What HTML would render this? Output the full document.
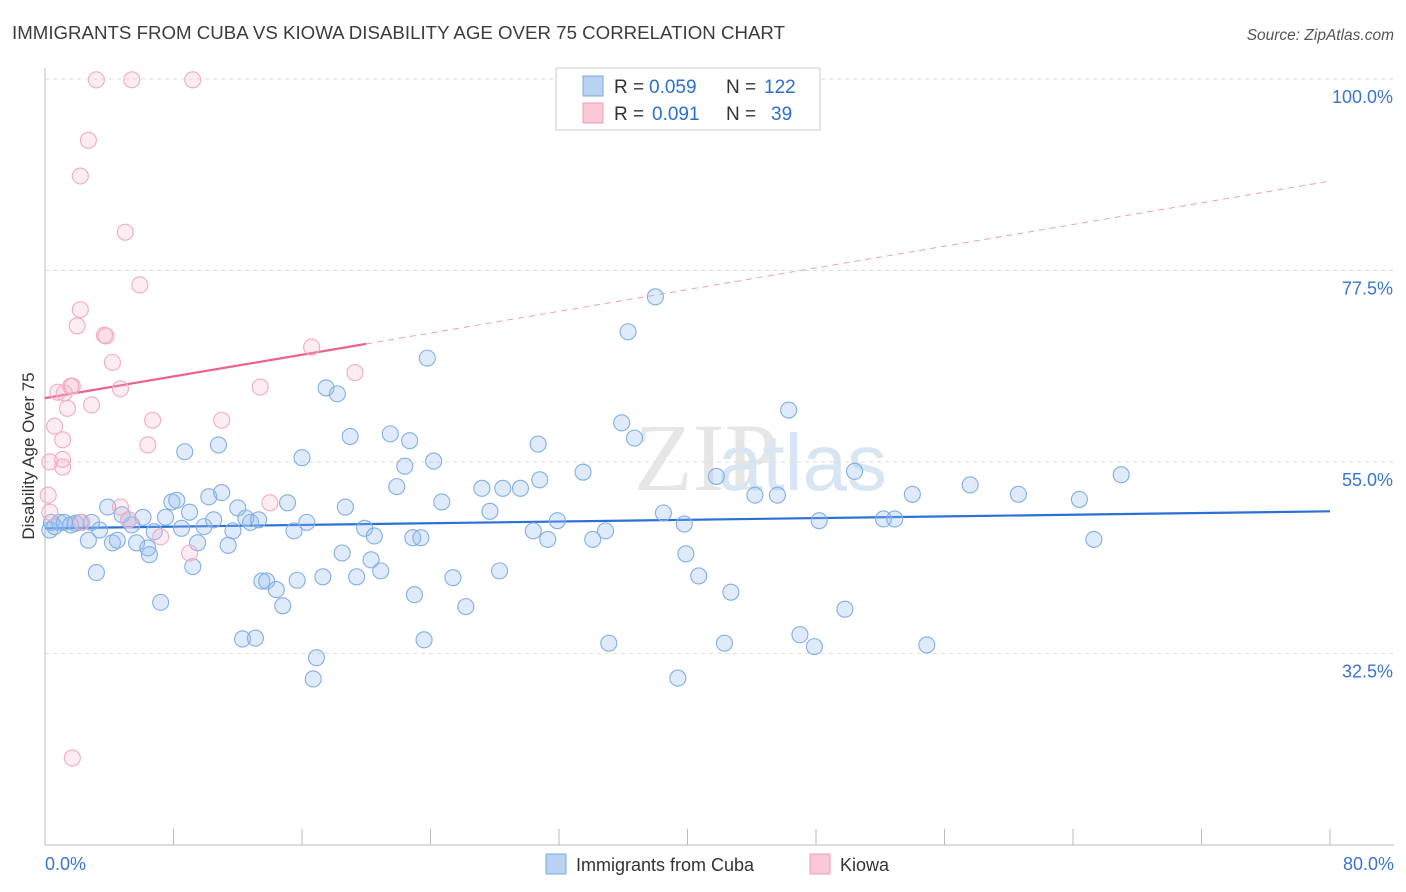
<!DOCTYPE html>
<html><head><meta charset="utf-8"><style>
body{margin:0;background:#fff;font-family:"Liberation Sans",sans-serif;}
svg{display:block}
</style></head><body>
<svg id="chart" width="1406" height="892">
<text x="12" y="39" font-size="18" fill="#3c3c3c" textLength="773" lengthAdjust="spacingAndGlyphs">IMMIGRANTS FROM CUBA VS KIOWA DISABILITY AGE OVER 75 CORRELATION CHART</text>
<text x="1394" y="40" font-size="15.5" fill="#555" font-style="italic" text-anchor="end">Source: ZipAtlas.com</text>
<text x="634" y="490" font-size="96" fill="#e6e6e6" font-family="Liberation Serif">ZIP</text>
<text x="718" y="490" font-size="80" fill="#d8e6f4">atlas</text>
<g id="grid"></g><g id="axes"></g><g id="trends"></g><g id="pts"></g>
<text transform="translate(34,456) rotate(-90)" font-size="17" fill="#333" text-anchor="middle">Disability Age Over 75</text>
<g>
<rect x="556" y="68" width="264" height="62" fill="#fff" stroke="#ccc"/>
<rect x="583" y="76" width="20" height="20" fill="#b9d3f3" stroke="#7aa7e0"/>
<rect x="583" y="103" width="20" height="20" fill="#f9c9d7" stroke="#ee9fb7"/>
<text x="614" y="93" font-size="19" fill="#333">R =</text>
<text x="649" y="93" font-size="19" fill="#2a6fd0">0.059</text>
<text x="726" y="93" font-size="19" fill="#333">N =</text>
<text x="764" y="93" font-size="19" fill="#2a6fd0">122</text>
<text x="614" y="120" font-size="19" fill="#333">R =</text>
<text x="652" y="120" font-size="19" fill="#2a6fd0">0.091</text>
<text x="726" y="120" font-size="19" fill="#333">N =</text>
<text x="771" y="120" font-size="19" fill="#2a6fd0">39</text>
</g>
<g>
<rect x="546" y="854" width="20" height="20" fill="#b9d3f3" stroke="#7aa7e0"/>
<text x="576" y="871" font-size="18" fill="#333">Immigrants from Cuba</text>
<rect x="810" y="854" width="20" height="20" fill="#f9c9d7" stroke="#ee9fb7"/>
<text x="840" y="871" font-size="18" fill="#333">Kiowa</text>
</g>
</svg>
<script>
const blueX=[0.3,0.4,0.6,0.9,1.2,1.6,1.9,2.2,2.7,2.9,3.2,3.4,3.9,4.2,4.5,4.8,5.2,5.4,6.1,5.7,6.4,6.5,6.8,7.2,7.5,7.9,8.2,8.5,8.7,9.0,9.2,9.5,9.9,10.2,10.5,10.8,11.0,11.4,11.7,12.0,12.3,12.5,12.8,13.1,13.3,13.5,13.8,14.4,14.8,15.1,15.5,15.7,16.0,16.3,16.9,16.7,17.3,17.5,18.2,18.5,18.7,19.0,19.4,19.9,20.3,20.5,20.9,21.5,21.9,22.4,22.7,22.9,23.0,23.4,23.6,23.8,24.2,24.7,25.4,26.2,27.2,27.7,28.3,28.5,29.6,30.4,30.7,30.8,31.3,31.9,33.5,34.1,34.9,35.1,35.9,36.3,36.7,38.0,38.5,39.4,39.8,39.9,40.7,41.8,42.3,42.7,44.2,45.6,46.3,47.0,47.9,48.2,49.8,50.4,52.2,52.9,54.0,54.9,57.6,60.6,64.4,65.3,67.0];
const blueY=[47.0,47.9,47.4,47.9,47.9,47.6,47.8,47.9,45.8,47.9,42.0,47.0,49.7,45.5,45.8,48.8,48.2,47.6,48.5,45.5,44.9,44.1,46.8,38.5,48.5,50.3,50.5,47.2,56.2,49.1,42.7,45.5,47.4,50.9,48.2,57.0,51.4,45.2,46.9,49.6,34.2,48.4,47.9,34.3,48.2,41.0,41.0,40.0,38.1,50.2,46.9,41.1,55.5,47.9,32.0,29.5,41.5,63.7,63.0,44.3,49.7,58.0,41.5,47.2,43.5,46.3,42.2,58.3,52.1,54.5,57.5,46.1,39.4,46.1,34.1,67.2,55.1,50.3,41.4,38.0,51.9,49.2,42.2,51.9,51.9,46.9,57.1,52.9,45.9,48.1,53.8,45.9,46.9,33.7,59.6,70.3,57.8,74.4,49.0,29.6,47.7,44.2,41.6,53.3,33.7,39.7,51.1,51.1,61.1,34.7,33.3,48.1,37.7,53.9,48.3,48.3,51.2,33.5,52.3,51.2,50.6,45.9,53.5];
const pinkX=[0.3,0.2,0.3,0.6,0.8,1.1,1.1,1.1,1.2,1.4,1.6,1.7,1.7,2.0,2.2,2.2,2.7,2.9,3.2,3.7,3.8,4.2,4.7,4.7,5.0,5.2,5.4,5.9,6.4,6.7,7.2,9.0,9.2,11.0,13.4,14.0,16.6,19.3,2.3];
const pinkY=[49.1,51.1,55.0,59.2,63.2,57.6,55.3,54.4,63.1,61.3,63.9,63.9,20.2,71.0,72.9,88.6,92.8,61.7,99.9,69.9,69.8,66.7,63.6,49.7,82.0,48.2,99.9,75.8,57.0,59.9,46.2,44.3,99.9,59.9,63.8,50.2,68.5,65.5,47.9];
const yTicks=[100,77.5,55,32.5];
const yTickLabels=["100.0%","77.5%","55.0%","32.5%"];
const xTickVals=[0,8,16,24,32,40,48,56,64,72,80];
const blueTrend=[47.2,49.2];
const pinkTrend=[62.5,88.0];
const pinkSolidEnd=20;

const NS="http://www.w3.org/2000/svg";
const sx=v=>45+v*1285/80;
const sy=v=>79+(100-v)*8.51;
function mk(tag,attrs,parent){const e=document.createElementNS(NS,tag);for(const k in attrs)e.setAttribute(k,attrs[k]);document.getElementById(parent).appendChild(e);return e;}

yTicks.forEach((t,i)=>{
  const l=mk('line',{x1:45,x2:1394,y1:sy(t),y2:sy(t),stroke:'#ddd','stroke-dasharray':'4,4'},'grid');
  
  
  const tx=mk('text',{x:1393,y:sy(t)+24,'font-size':18,fill:'#3a75d0','text-anchor':'end'},'grid');
  tx.textContent=yTickLabels[i];
  
  
});
const ya=mk('line',{x1:45,x2:45,y1:68,y2:845,stroke:'#bbb'},'axes');


const xa=mk('line',{x1:45,x2:1394,y1:845,y2:845,stroke:'#bbb'},'axes');


xTickVals.forEach(v=>{
  const t=mk('line',{x1:sx(v),x2:sx(v),y1:829,y2:845,stroke:'#bbb'},'axes');
  
  
});
const xl0=mk('text',{x:45,y:870,'font-size':18,fill:'#3a75d0'},'axes');xl0.textContent='0.0%';


const xl1=mk('text',{x:1394,y:870,'font-size':18,fill:'#3a75d0','text-anchor':'end'},'axes');xl1.textContent='80.0%';



blueX.forEach((x,i)=>{
  const c=mk('circle',{cx:sx(x),cy:sy(blueY[i]),r:8,fill:'rgba(150,188,238,0.3)',stroke:'#82aee6','stroke-width':1.1},'pts');
  
  
});
pinkX.forEach((x,i)=>{
  const c=mk('circle',{cx:sx(x),cy:sy(pinkY[i]),r:8,fill:'rgba(248,180,202,0.25)',stroke:'#f2abc1','stroke-width':1.1},'pts');
  
  
});
const bt=mk('line',{x1:sx(0),y1:sy(blueTrend[0]),x2:sx(80),y2:sy(blueTrend[1]),stroke:'#2a70d6','stroke-width':2.2},'trends');


const pm=pinkTrend[0]+(pinkTrend[1]-pinkTrend[0])*pinkSolidEnd/80;
const pt=mk('line',{x1:sx(0),y1:sy(pinkTrend[0]),x2:sx(pinkSolidEnd),y2:sy(pm),stroke:'#e8638d','stroke-width':2.2},'trends');


const pd=mk('line',{x1:sx(pinkSolidEnd),y1:sy(pm),x2:sx(80),y2:sy(pinkTrend[1]),stroke:'#eba0b6','stroke-width':1,'stroke-dasharray':'6,5'},'trends');


</script>
</body></html>
